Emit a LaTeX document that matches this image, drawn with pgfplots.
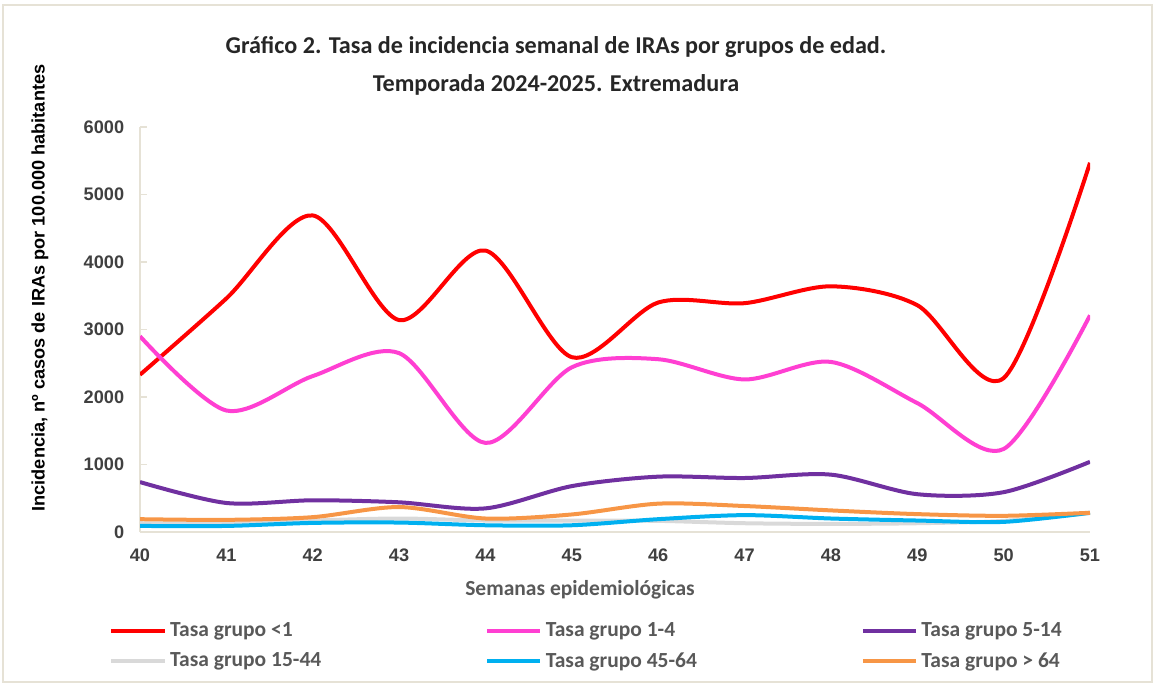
\documentclass[border=0pt]{standalone}
\usepackage{pgfplots}
\pgfplotsset{compat=1.18}
\usepackage{fontspec}
\setmainfont{Carlito}
\newfontfamily\arial{Liberation Sans}
\definecolor{cred}{HTML}{FF0000}
\definecolor{cpink}{HTML}{FF3FD2}
\definecolor{cpurple}{HTML}{7030A0}
\definecolor{cgray}{HTML}{D9D9D9}
\definecolor{cblue}{HTML}{00B0F0}
\definecolor{corange}{HTML}{F79646}
\definecolor{axcol}{HTML}{E6E2D6}
\definecolor{txt}{HTML}{404040}
\definecolor{leg}{HTML}{595959}
\begin{document}
\begin{tikzpicture}[x=0.6pt,y=0.6pt]
\path[use as bounding box] (0,0) rectangle (1158,686);
\draw[axcol, line width=0.9pt] (3,4) rectangle (1152,681);
\begin{axis}[
  at={(84pt,92.4pt)}, anchor=south west, scale only axis,
  width=570pt, height=243pt,
  xmin=40, xmax=51, ymin=0, ymax=6000,
  axis x line*=bottom, axis y line*=left,
  axis line style={axcol, line width=0.9pt, -},
  xtick={40,...,51}, ytick={0,1000,...,6000},
  x tick style={draw=none},
  y tick style={axcol, line width=0.9pt},
  tick align=inside, major tick length=4pt,
  extra x ticks={40.5,41.5,...,50.5,51},
  extra x tick labels={},
  extra x tick style={tick style={axcol, line width=0.9pt, draw=axcol}, tick align=center, major tick length=5pt},
  tick label style={font=\arial\bfseries\fontsize{10.9}{13}\selectfont, text=txt},
  /pgf/number format/assume math mode=true,
  /pgf/number format/set thousands separator={},
  xticklabel style={yshift=-6.5pt},
  yticklabel style={xshift=-6pt},
  legend columns=3,
  legend style={at={(-0.0325,-0.215)}, anchor=north west, draw=none, fill=none,
    inner sep=0pt, font=\bfseries\fontsize{12.9}{15}\selectfont, text=leg,
    /tikz/every even column/.append style={column sep=0pt},
    row sep=4pt, cells={anchor=west}},
  legend image code/.code={\draw[#1, line width=2.4pt] (0pt,0pt) -- (32pt,0pt);},
  every axis plot/.append style={smooth, line width=2.4pt, no markers},
]
\addplot[cred] coordinates {(40,2330)(41,3460)(42,4690)(43,3140)(44,4170)(45,2590)(46,3400)(47,3390)(48,3640)(49,3360)(50,2280)(51,5470)};
\addlegendentry{\makebox[187pt][l]{Tasa grupo <1}}
\addplot[cpink] coordinates {(40,2900)(41,1800)(42,2310)(43,2650)(44,1320)(45,2440)(46,2560)(47,2260)(48,2520)(49,1910)(50,1230)(51,3210)};
\addlegendentry{\makebox[187pt][l]{Tasa grupo 1-4}}
\addplot[cpurple] coordinates {(40,740)(41,430)(42,470)(43,440)(44,350)(45,680)(46,820)(47,800)(48,850)(49,560)(50,590)(51,1040)};
\addlegendentry{Tasa grupo 5-14}
\addplot[cgray] coordinates {(40,130)(41,130)(42,170)(43,200)(44,170)(45,170)(46,165)(47,130)(48,120)(49,130)(50,165)(51,280)};
\addlegendentry{Tasa grupo 15-44}
\addplot[cblue] coordinates {(40,90)(41,90)(42,135)(43,140)(44,100)(45,100)(46,190)(47,250)(48,200)(49,170)(50,150)(51,285)};
\addlegendentry{Tasa grupo 45-64}
\addplot[corange] coordinates {(40,190)(41,180)(42,220)(43,370)(44,200)(45,260)(46,420)(47,385)(48,320)(49,265)(50,240)(51,285)};
\addlegendentry{Tasa grupo > 64}
\end{axis}
\node[font=\bfseries\fontsize{14.5}{17}\selectfont, text=black!85] at (556,639) {Gráfico 2. Tasa de incidencia semanal de IRAs por grupos de edad.};
\node[font=\bfseries\fontsize{14.5}{17}\selectfont, text=black!85] at (556,601) {Temporada 2024-2025. Extremadura};
\node[rotate=90, font=\arial\bfseries\fontsize{10.9}{13}\selectfont, text=black] at (40,398) {Incidencia, nº casos de IRAs por 100.000 habitantes};
\node[font=\bfseries\fontsize{12.9}{15}\selectfont, text=leg] at (580,96) {Semanas epidemiológicas};
\end{tikzpicture}
\end{document}
